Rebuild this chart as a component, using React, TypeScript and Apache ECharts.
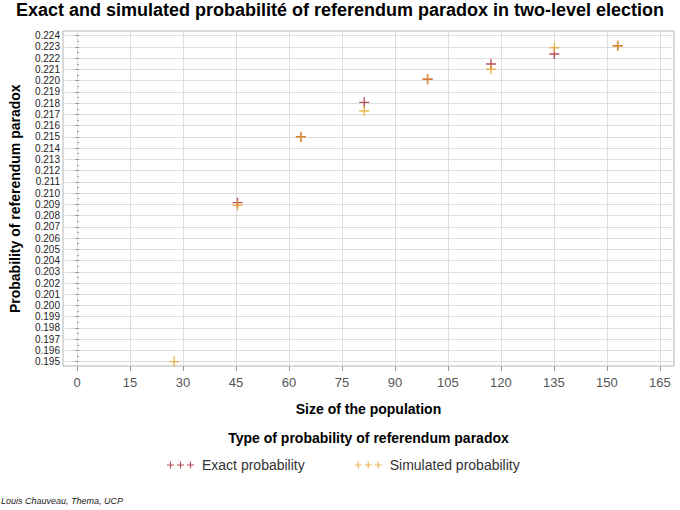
import React, { useEffect, useRef } from "react";
import * as echarts from "echarts";

const populationSizes = [27, 45, 63, 81, 99, 117, 135, 153];
const exactValues: (number | null)[] = [null, 0.20915, 0.21502, 0.21807, 0.22012, 0.22148, 0.22237, 0.22311];
const simulatedValues: (number | null)[] = [0.19501, 0.20892, 0.21499, 0.2173, 0.22016, 0.22102, 0.22293, 0.22309];
const xTickMin = 0;
const xTickMax = 165;
const xTickStep = 15;
const yTickMin = 0.195;
const yTickMax = 0.224;
const yTickStep = 0.001;

const FONT = 'Arial, "Liberation Sans", Helvetica, sans-serif';
const RED = "#a82438";
const GOLD = "#e6a52a";

const CROSS = "path://M4.3,0h1.4v4.3h4.3v1.4h-4.3v4.3h-1.4v-4.3h-4.3v-1.4h4.3z";
const crossAt = (o: number) => `M${o + 2.9},0h1.2v2.9h2.9v1.2h-2.9v2.9h-1.2v-2.9h-2.9v-1.2h2.9z`;
const TRIPLE = "path://" + crossAt(0) + crossAt(10) + crossAt(20);

export default function App() {
  const ref = useRef<HTMLDivElement>(null);
  useEffect(() => {
    document.body.style.margin = "0";
    if (!ref.current) return;
    const chart = echarts.init(ref.current, undefined, { renderer: "svg" });

    const L = 63, T = 31, W = 611, H = 335;
    const xMin = -4, xMax = 169;
    const pxPerX = W / (xMax - xMin);
    const xLeft = L + (xTickMin - xMin) * pxPerX;
    const xWidth = (xTickMax - xTickMin) * pxPerX;
    const yTop = 35.7, yHeight = 326;

    const pair = (vals: (number | null)[]) =>
      populationSizes.map((x, i) => (vals[i] == null ? null : [x, vals[i]])).filter((d) => d) as number[][];

    chart.setOption({
      animation: false,
      backgroundColor: "#fff",
      textStyle: { fontFamily: FONT },
      title: {
        text: "Exact and simulated probabilité of referendum paradox in two-level election",
        left: "center",
        top: 1,
        padding: 0,
        textStyle: { fontFamily: FONT, fontSize: 18, fontWeight: "bold", color: "#000" },
      },
      grid: [
        { left: L, top: T, width: W, height: H, show: true, borderColor: "#b4b4b4", borderWidth: 1, backgroundColor: "transparent" },
        { left: L, top: yTop, width: W, height: yHeight },
        { left: xLeft, top: T, width: xWidth, height: H },
      ],
      xAxis: [
        { gridIndex: 0, type: "value", min: 0, max: 1, show: false },
        { gridIndex: 1, type: "value", min: xMin, max: xMax, show: false },
        {
          gridIndex: 2,
          type: "value",
          min: xTickMin,
          max: xTickMax,
          interval: xTickStep,
          position: "bottom",
          name: "Size of the population",
          nameLocation: "middle",
          nameGap: 36,
          nameTextStyle: { fontFamily: FONT, fontSize: 14, fontWeight: "bold", color: "#000" },
          axisLine: { show: false },
          axisTick: { show: true, length: 5, lineStyle: { color: "#9a9a9a" } },
          axisLabel: { fontFamily: FONT, fontSize: 13, color: "#555", margin: 10 },
          splitLine: { show: true, lineStyle: { color: "#dedede", width: 1 } },
        },
      ],
      yAxis: [
        { gridIndex: 0, type: "value", min: 0, max: 1, show: false },
        {
          gridIndex: 1,
          type: "value",
          min: yTickMin,
          max: yTickMax,
          interval: yTickStep,
          name: "Probability of referendum paradox",
          nameLocation: "middle",
          nameGap: 43,
          nameTextStyle: { fontFamily: FONT, fontSize: 14, fontWeight: "bold", color: "#000" },
          axisLine: { show: false },
          axisTick: { show: true, length: 4, lineStyle: { color: "#9a9a9a" } },
          minorTick: { show: true, splitNumber: 2, length: 2, lineStyle: { color: "#9a9a9a" } },
          axisLabel: {
            fontFamily: FONT,
            fontSize: 10,
            color: "#222",
            margin: 5,
            formatter: (v: number) => v.toFixed(3),
          },
          splitLine: { show: true, lineStyle: { color: "#dedede", width: 1 } },
        },
        { gridIndex: 2, type: "value", min: 0, max: 1, show: false },
      ],
      legend: {
        left: 167,
        top: 458,
        padding: 0,
        itemGap: 50,
        itemWidth: 27,
        itemHeight: 7,
        data: [
          { name: "Exact probability", icon: TRIPLE, itemStyle: { color: RED } },
          { name: "Simulated probability", icon: TRIPLE, itemStyle: { color: GOLD } },
        ],
        textStyle: { fontFamily: FONT, fontSize: 14, color: "#333", padding: [0, 0, 0, 3] },
      },
      graphic: [
        {
          type: "text",
          x: L + W / 2,
          y: 438,
          style: {
            text: "Type of probability of referendum paradox",
            fontFamily: FONT,
            fontSize: 14,
            fontWeight: "bold",
            fill: "#000",
            align: "center",
            verticalAlign: "middle",
          },
        },
        {
          type: "text",
          x: 1,
          y: 501,
          style: {
            text: "Louis Chauveau, Thema, UCP",
            fontFamily: FONT,
            fontSize: 9,
            fontStyle: "italic",
            fill: "#222",
            align: "left",
            verticalAlign: "middle",
          },
        },
      ],
      series: [
        {
          name: "Exact probability",
          type: "scatter",
          xAxisIndex: 1,
          yAxisIndex: 1,
          symbol: CROSS,
          symbolSize: 10,
          itemStyle: { color: RED },
          data: pair(exactValues),
        },
        {
          name: "Simulated probability",
          type: "scatter",
          xAxisIndex: 1,
          yAxisIndex: 1,
          symbol: CROSS,
          symbolSize: 10,
          itemStyle: { color: GOLD },
          data: pair(simulatedValues),
        },
      ],
    });
    return () => chart.dispose();
  }, []);
  return <div ref={ref} style={{ width: 680, height: 510 }} />;
}
